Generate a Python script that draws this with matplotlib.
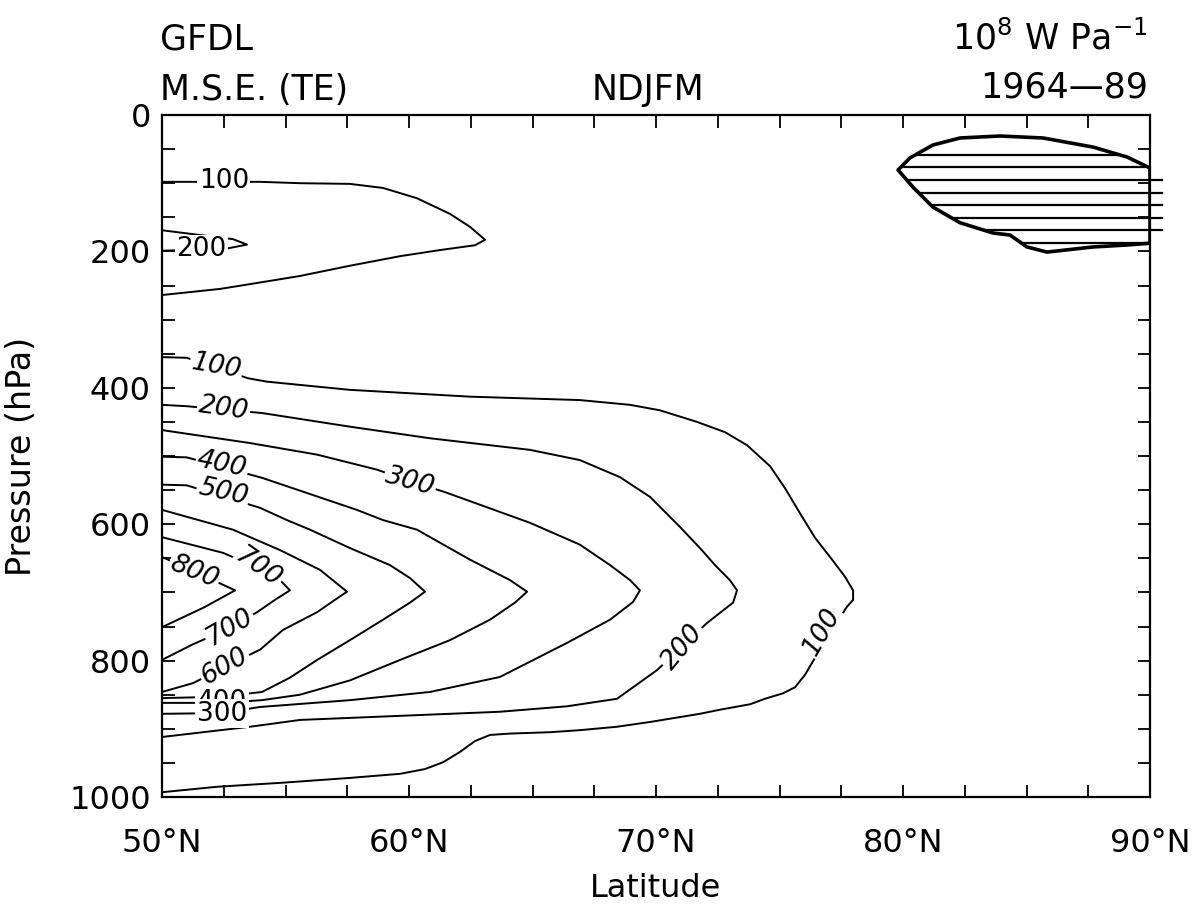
import numpy as np
import matplotlib
matplotlib.use("Agg")
import matplotlib.pyplot as plt
from matplotlib.patches import Polygon

plt.rcParams['font.family'] = ['DejaVu Sans']
plt.rcParams['mathtext.default'] = 'regular'

# ---- axis setup ----
lat_ticks = [50, 60, 70, 80, 90]
p_ticks = [0, 200, 400, 600, 800, 1000]

# ---- contour lines of the transient-eddy M.S.E. flux (10^8 W Pa^-1) ----
# upper-level lobe
c100_top_lat = [50.0, 53.97, 55.59, 57.61, 58.95, 60.32, 61.66, 62.47, 63.08,
                62.67, 61.26, 59.64, 57.61, 55.59, 53.56, 52.35, 50.0]
c100_top_p = [98, 98, 100, 101, 107, 122, 145, 164, 183,
              191, 198, 207, 221, 236, 248, 255, 264]
c200_top_lat = [50.0, 51.54, 52.87, 53.44, 52.6, 50.0]
c200_top_p = [169, 176, 182, 190, 196, 199]

# lower-tropospheric lobe
c100_lat = [50.0, 51.0, 53.48, 54.25, 57.61, 62.47, 66.92, 68.95, 70.16, 71.66, 72.79, 73.68,
            74.62, 75.22, 75.83, 76.44, 77.13, 77.65, 77.98, 77.98, 77.73, 76.32, 76.03,
            75.63, 75.14, 74.41, 73.81, 72.59, 71.78, 69.76, 68.42, 66.92, 65.71, 64.09,
            63.28, 62.67, 62.06, 61.38, 60.65, 59.64, 57.61, 54.90, 52.23, 50.0]
c100_p = [355, 356, 386, 391, 403, 413, 418, 425, 433, 450, 465, 484,
          515, 547, 584, 620, 652, 677, 697, 711, 721, 803, 821,
          839, 848, 856, 864, 872, 878, 890, 897, 902, 905, 907,
          909, 918, 934, 949, 959, 966, 972, 979, 985, 993]

c200_lat = [50.0, 51.0, 54.05, 57.61, 60.85, 64.90, 66.92, 68.54, 69.76, 70.97, 71.78, 72.39,
            72.99, 73.28, 73.12, 72.59, 72.06, 70.04, 68.42, 66.40, 63.68, 59.64, 55.59,
            53.56, 50.0]
c200_p = [425, 427, 437, 457, 474, 491, 506, 531, 560, 604, 635, 660,
          682, 697, 715, 730, 745, 814, 856, 867, 875, 881, 887,
          897, 912]

c300_lat = [50.0, 53.56, 56.28, 58.70, 60.04, 61.46, 64.90, 66.92, 68.14, 68.95, 69.35,
            69.07, 68.14, 66.40, 63.68, 60.85, 57.61, 53.97, 52.4, 50.0]
c300_p = [462, 481, 498, 520, 537, 553, 598, 630, 660, 682, 697,
          714, 740, 774, 824, 846, 858, 868, 877, 878]

c400_lat = [50.0, 51.0, 54.05, 57.89, 58.95, 60.32, 62.47, 64.09, 64.78,
            64.29, 63.28, 61.66, 59.64, 57.61, 55.59, 54.05, 52.4, 50.0]
c400_p = [501, 502, 532, 579, 594, 608, 652, 682, 699,
          715, 740, 770, 799, 829, 850, 858, 862, 862]

c500_lat = [50.0, 51.0, 53.97, 55.06, 55.99, 57.61, 59.23, 60.04, 60.65,
            60.04, 58.95, 57.61, 56.28, 55.18, 54.05, 52.35, 50.0]
c500_p = [542, 543, 576, 594, 608, 635, 660, 679, 699,
          715, 740, 770, 799, 825, 846, 853, 855]

c600_lat = [50.0, 52.87, 54.78, 56.40, 57.49, 57.0, 56.28, 54.90, 53.97, 52.55, 51.26, 50.0]
c600_p = [579, 608, 638, 667, 699, 711, 729, 755, 784, 809, 833, 846]

c700_lat = [50.0, 52.47, 53.89, 54.78, 55.18, 54.57, 53.85, 52.75, 51.2, 50.0]
c700_p = [619, 642, 664, 682, 697, 711, 729, 752, 777, 799]

c800_lat = [50.0, 51.34, 52.96, 51.7, 50.0]
c800_p = [648, 670, 697, 722, 751]

# negative (hatched) region near the pole, bounded by the zero line
neg_lat = [79.80, 80.28, 81.21, 82.31, 83.93, 85.67, 87.69, 89.07, 90.0, 90.0, 89.07, 87.69,
           85.83, 85.02, 84.33, 83.64, 82.31, 81.21, 80.40]
neg_p = [80.6, 63, 44, 33.7, 30.8, 33.7, 47, 61.6, 77.7, 188, 190.6, 193.5,
         201, 193.5, 176, 173, 158, 135, 105.6]

contours = [
    (100, c100_top_lat, c100_top_p),
    (200, c200_top_lat, c200_top_p),
    (100, c100_lat, c100_p),
    (200, c200_lat, c200_p),
    (300, c300_lat, c300_p),
    (400, c400_lat, c400_p),
    (500, c500_lat, c500_p),
    (600, c600_lat, c600_p),
    (700, c700_lat, c700_p),
    (800, c800_lat, c800_p),
]

W, H = 1196, 908
fig = plt.figure(figsize=(W / 100, H / 100), dpi=100)
ax = fig.add_axes([162 / W, 1 - 797 / H, (1150 - 162) / W, (797 - 115) / H])
ax.set_xlim(50, 90)
ax.set_ylim(1000, 0)

for level, la, pp in contours:
    ax.plot(la, pp, color='black', lw=1.4, solid_joinstyle='round', zorder=2)

# inline contour labels: (value, lat, pressure, rotation, slant)
labels = [
    (100, 52.5, 97, 0, 'normal'),
    (200, 51.6, 197, 0, 'normal'),
    (100, 52.2, 368, -10, 'italic'),
    (200, 52.5, 430, -8, 'italic'),
    (300, 60.04, 538, -15, 'italic'),
    (400, 52.43, 513, -12, 'italic'),
    (500, 52.47, 553, -12, 'italic'),
    (800, 51.3, 670, -22, 'italic'),
    (700, 53.89, 664, -35, 'italic'),
    (700, 52.75, 752, 30, 'italic'),
    (600, 52.55, 809, 30, 'italic'),
    (400, 52.43, 860, 0, 'normal'),
    (300, 52.43, 878, 0, 'normal'),
    (200, 71.09, 780, 50, 'italic'),
    (100, 76.72, 758, 60, 'italic'),
]
for val, la, pp, rot, sty in labels:
    ax.text(la, pp, str(val), rotation=rot, rotation_mode='anchor', ha='center', va='center',
            fontsize=19, style=sty, zorder=3,
            bbox=dict(boxstyle='square,pad=0.06', fc='white', ec='none'))

# hatched negative region
poly = Polygon(np.column_stack([neg_lat, neg_p]), closed=True, fc='none', ec='black',
               lw=2.6, joinstyle='round', zorder=4)
ax.add_patch(poly)
for ph in np.arange(58.5, 200, 18.4):
    ln, = ax.plot([79, 91], [ph, ph], color='black', lw=1.6, zorder=3)
    ln.set_clip_path(poly)
    if 90 < ph < 180:
        ax.plot([90, 90.5], [ph, ph], color='black', lw=1.6, clip_on=False, zorder=3)

# axes styling
for s in ax.spines.values():
    s.set_linewidth(1.6)
ax.set_xticks(lat_ticks)
ax.set_xticklabels([f"{v}°N" for v in lat_ticks])
ax.set_xticks(np.arange(50, 90.1, 2.5), minor=True)
ax.set_yticks(p_ticks)
ax.set_yticks(np.arange(0, 1001, 50), minor=True)
ax.tick_params(which='both', direction='in', top=True, right=True, width=1.3, length=9)
ax.tick_params(axis='x', which='major', labelsize=23, pad=22)
ax.tick_params(axis='y', which='major', labelsize=23, pad=8)
ax.set_xlabel('Latitude', fontsize=23)
ax.set_ylabel('Pressure (hPa)', fontsize=24)
ax.xaxis.set_label_coords(0.5, -0.112)
ax.yaxis.set_label_coords(-0.125, 0.5)

# header text
fig.text(160 / W, 1 - 40 / H, 'GFDL', fontsize=25, ha='left', va='center')
fig.text(160 / W, 1 - 90 / H, 'M.S.E. (TE)', fontsize=25, ha='left', va='center')
fig.text(648 / W, 1 - 90 / H, 'NDJFM', fontsize=25, ha='center', va='center')
fig.text(1148 / W, 1 - 38 / H, r'10$^{8}$ W Pa$^{-1}$', fontsize=25, ha='right', va='center')
fig.text(1148 / W, 1 - 88 / H, '1964—89', fontsize=25, ha='right', va='center')

fig.savefig('out.png', dpi=100)
